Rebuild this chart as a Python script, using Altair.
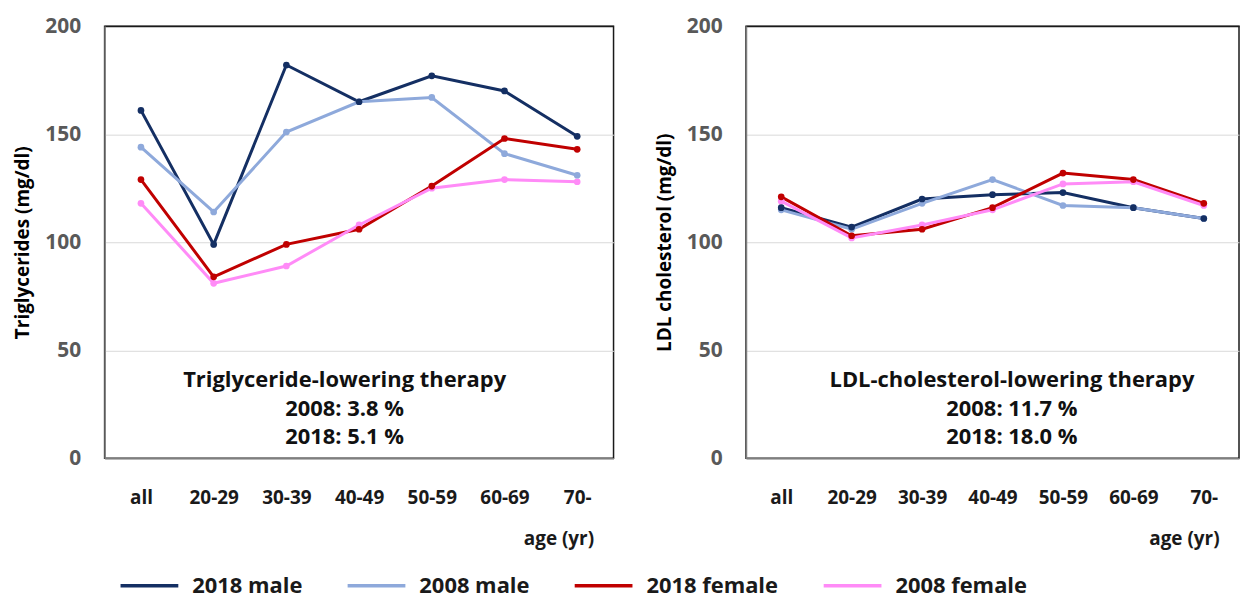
import altair as alt
import pandas as pd

FONT = "Open Sans"

ages = ["all", "20-29", "30-39", "40-49", "50-59", "60-69", "70-"]
series = ["2018 male", "2008 male", "2018 female", "2008 female"]
colors = ["#142F63", "#8EA9DB", "#C00000", "#FF8BF7"]

# Triglycerides (mg/dl)
tg_2018_male = [161, 99, 182, 165, 177, 170, 149]
tg_2008_male = [144, 114, 151, 165, 167, 141, 131]
tg_2018_female = [129, 84, 99, 106, 126, 148, 143]
tg_2008_female = [118, 81, 89, 108, 125, 129, 128]

# LDL cholesterol (mg/dl)
ldl_2018_male = [116, 107, 120, 122, 123, 116, 111]
ldl_2008_male = [115, 106, 118, 129, 117, 116, 111]
ldl_2018_female = [121, 103, 106, 116, 132, 129, 118]
ldl_2008_female = [119, 102, 108, 115, 127, 128, 117]

tg_note = ["Triglyceride-lowering therapy", "2008: 3.8 %", "2018: 5.1 %"]
ldl_note = ["LDL-cholesterol-lowering therapy", "2008: 11.7 %", "2018: 18.0 %"]
note_y = [36.2, 22.8, 10.0]


def long_df(vals):
    rows = []
    for s, v in zip(series, vals):
        for a, y in zip(ages, v):
            rows.append({"age": a, "series": s, "value": y})
    return pd.DataFrame(rows)


tg_df = long_df([tg_2018_male, tg_2008_male, tg_2018_female, tg_2008_female])
ldl_df = long_df([ldl_2018_male, ldl_2008_male, ldl_2018_female, ldl_2008_female])

color_enc = alt.Color(
    "series:N",
    scale=alt.Scale(domain=series, range=colors),
    legend=alt.Legend(
        title=None,
        orient="none",
        direction="horizontal",
        columns=4,
        legendX=14,
        legendY=531,
        symbolType="stroke",
        symbolSize=3364,
        symbolStrokeWidth=3.5,
        labelFontSize=22,
        labelFont=FONT,
        labelFontWeight="bold",
        labelColor="#1a1a1a",
        labelOffset=12,
        columnPadding=38,
        labelLimit=300,
    ),
    sort=series,
)


def panel(df, ytitle, note, width, note_x):
    x_enc = alt.X(
        "age:N",
        sort=ages,
        scale=alt.Scale(domain=ages, paddingOuter=0.5),
        axis=alt.Axis(
            title="age (yr)",
            titleFont=FONT,
            titleFontSize=19,
            titleFontWeight="bold",
            titleColor="#1a1a1a",
            titleAlign="right",
            titleAnchor="start",
            titleX=width - 20,
            titleY=80,
            titleBaseline="middle",
            labelAngle=0,
            labelFont=FONT,
            labelFontSize=19,
            labelFontWeight="bold",
            labelColor="#1a1a1a",
            labelPadding=30,
            ticks=False,
            domain=True,
            domainColor="#7F7F7F",
            domainWidth=1.5,
            grid=False,
        ),
    )
    y_enc = alt.Y(
        "value:Q",
        scale=alt.Scale(domain=[0, 200], nice=False),
        axis=alt.Axis(
            title=ytitle,
            titleFont=FONT,
            titleFontSize=19,
            titleFontWeight="bold",
            titleColor="#000000",
            titlePadding=12,
            values=[0, 50, 100, 150, 200],
            labelFont=FONT,
            labelFontSize=21,
            labelFontWeight="bold",
            labelColor="#595959",
            labelPadding=24,
            ticks=False,
            domain=True,
            domainColor="#7F7F7F",
            domainWidth=1.5,
            gridColor={"condition": {"test": "datum.value >= 200", "value": "#1a1a1a"}, "value": "#D9D9D9"},
            gridWidth={"condition": {"test": "datum.value >= 200", "value": 1.5}, "value": 1},
        ),
    )
    base = alt.Chart(df).encode(x=x_enc, y=y_enc, color=color_enc, order=alt.Order("series:N"))
    lines = base.mark_line(strokeWidth=3)
    pts = base.mark_point(filled=True, size=45, opacity=1)
    note_df = pd.DataFrame({"text": note, "y": note_y})
    txt = alt.Chart(note_df).mark_text(
        font=FONT, fontSize=22, fontWeight="bold", color="#111111", baseline="middle", align="center"
    ).encode(
        x=alt.value(note_x),
        y=alt.Y("y:Q", scale=alt.Scale(domain=[0, 200], nice=False)),
        text="text:N",
    )
    return alt.layer(lines, pts, txt).properties(
        width=width,
        height=434,
        view=alt.ViewBackground(stroke="#1a1a1a", strokeWidth=1.5, fill="white"),
    )


left = panel(tg_df, "Triglycerides (mg/dl)", tg_note, 511, 241)
right = panel(ldl_df, "LDL cholesterol (mg/dl)", ldl_note, 495, 267)

chart = (
    alt.hconcat(left, right, spacing=40)
    .properties(padding={"left": 5, "top": 5, "right": 0, "bottom": 0})
    .configure_view(stroke="#1a1a1a", strokeWidth=1.5)
    .configure(background="white")
)

chart.save("out.html", embed_options={"renderer": "svg", "actions": False})
